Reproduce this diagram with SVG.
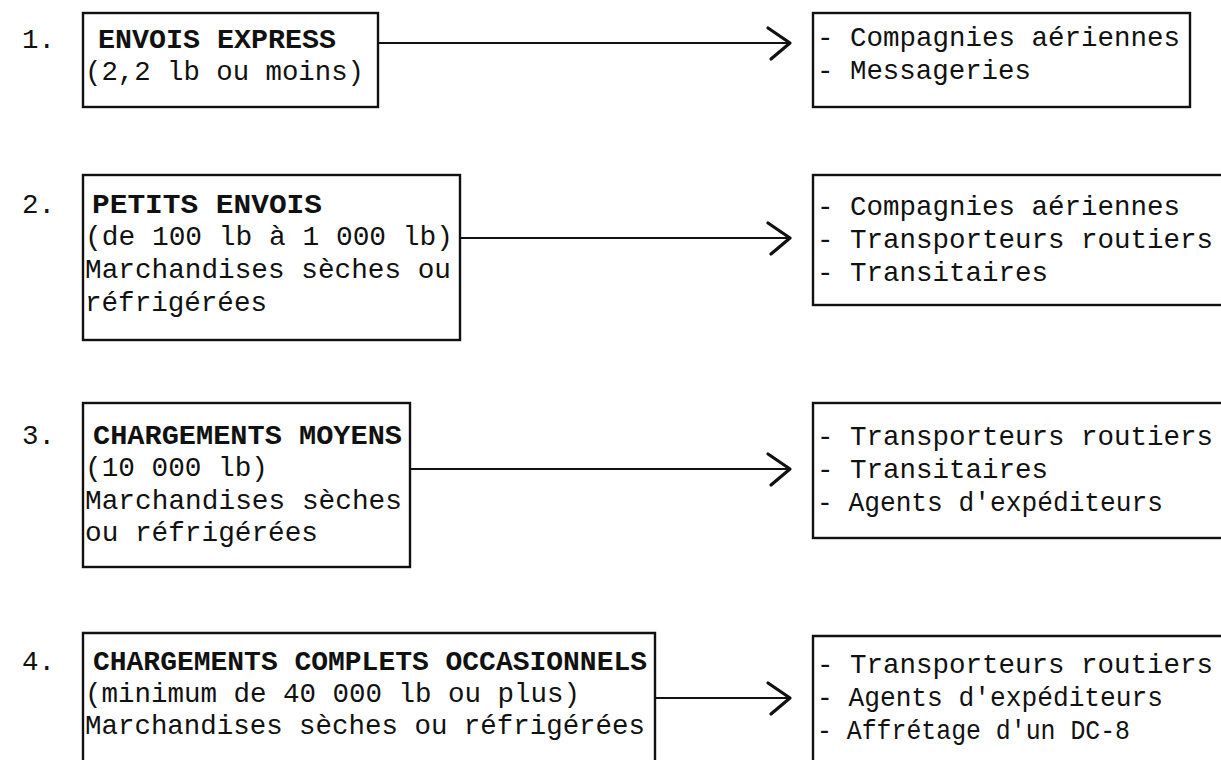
<svg xmlns="http://www.w3.org/2000/svg" width="1221" height="760" viewBox="0 0 1221 760">
<style>
.bg{fill:#ffffff}
.box{fill:none;stroke:#111;stroke-width:2.4}
.t{font-family:"Liberation Mono","DejaVu Sans Mono",monospace;font-size:27.5px;fill:#111}
.h{font-weight:bold}
.conn{stroke:#111;stroke-width:2.2;fill:none}
</style>
<defs>
<marker id="chev" viewBox="-26 -20 30 40" refX="0" refY="0" markerWidth="30" markerHeight="40" markerUnits="userSpaceOnUse" orient="auto">
<path d="M-22,-15 L0,0 L-19,16" fill="none" stroke="#111" stroke-width="3.2" stroke-linecap="round" stroke-linejoin="round"/>
</marker>
</defs>
<rect class="bg" x="0" y="0" width="1221" height="760"/>

<g id="numbers">
<text class="t" x="22" y="48">1.</text>
<text class="t" x="22" y="213">2.</text>
<text class="t" x="22" y="444">3.</text>
<text class="t" x="22" y="670">4.</text>
</g>

<g id="connectors">
<line class="conn" x1="378" y1="43" x2="790" y2="43" marker-end="url(#chev)"/>
<line class="conn" x1="460" y1="238" x2="790" y2="238" marker-end="url(#chev)"/>
<line class="conn" x1="410" y1="469" x2="790" y2="469" marker-end="url(#chev)"/>
<line class="conn" x1="655" y1="698" x2="790" y2="698" marker-end="url(#chev)"/>
</g>

<g id="node-1">
<rect class="box" x="83" y="13" width="295" height="94"/>
<text class="t h" x="98" y="48" textLength="238" lengthAdjust="spacingAndGlyphs">ENVOIS EXPRESS</text>
<text class="t" x="85" y="80" textLength="279" lengthAdjust="spacingAndGlyphs">(2,2 lb ou moins)</text>
</g>

<g id="target-1">
<rect class="box" x="813" y="13" width="377" height="94"/>
<text class="t" x="817" y="46" textLength="363" lengthAdjust="spacingAndGlyphs">- Compagnies aériennes</text>
<text class="t" x="817" y="79" textLength="214" lengthAdjust="spacingAndGlyphs">- Messageries</text>
</g>

<g id="node-2">
<rect class="box" x="83" y="175" width="377" height="165"/>
<text class="t h" x="92" y="213" textLength="230" lengthAdjust="spacingAndGlyphs">PETITS ENVOIS</text>
<text class="t" x="85" y="245" textLength="368" lengthAdjust="spacingAndGlyphs">(de 100 lb à 1 000 lb)</text>
<text class="t" x="85" y="278" textLength="366" lengthAdjust="spacingAndGlyphs">Marchandises sèches ou</text>
<text class="t" x="85" y="311" textLength="182" lengthAdjust="spacingAndGlyphs">réfrigérées</text>
</g>

<g id="target-2">
<rect class="box" x="813" y="175" width="430" height="130"/>
<text class="t" x="817" y="215" textLength="363" lengthAdjust="spacingAndGlyphs">- Compagnies aériennes</text>
<text class="t" x="817" y="248" textLength="396" lengthAdjust="spacingAndGlyphs">- Transporteurs routiers</text>
<text class="t" x="817" y="281" textLength="231" lengthAdjust="spacingAndGlyphs">- Transitaires</text>
</g>

<g id="node-3">
<rect class="box" x="83" y="403" width="327" height="164"/>
<text class="t h" x="93" y="444" textLength="309" lengthAdjust="spacingAndGlyphs">CHARGEMENTS MOYENS</text>
<text class="t" x="85" y="476" textLength="183" lengthAdjust="spacingAndGlyphs">(10 000 lb)</text>
<text class="t" x="85" y="509" textLength="317" lengthAdjust="spacingAndGlyphs">Marchandises sèches</text>
<text class="t" x="85" y="541" textLength="233" lengthAdjust="spacingAndGlyphs">ou réfrigérées</text>
</g>

<g id="target-3">
<rect class="box" x="813" y="403" width="430" height="135"/>
<text class="t" x="817" y="445" textLength="396" lengthAdjust="spacingAndGlyphs">- Transporteurs routiers</text>
<text class="t" x="817" y="478" textLength="231" lengthAdjust="spacingAndGlyphs">- Transitaires</text>
<text class="t" x="817" y="511" textLength="346" lengthAdjust="spacingAndGlyphs">- Agents d'expéditeurs</text>
</g>

<g id="node-4">
<path class="box" d="M83,780 L83,633 L655,633 L655,780"/>
<text class="t h" x="93" y="670" textLength="554" lengthAdjust="spacingAndGlyphs">CHARGEMENTS COMPLETS OCCASIONNELS</text>
<text class="t" x="85" y="702" textLength="495" lengthAdjust="spacingAndGlyphs">(minimum de 40 000 lb ou plus)</text>
<text class="t" x="85" y="734" textLength="560" lengthAdjust="spacingAndGlyphs">Marchandises sèches ou réfrigérées</text>
</g>

<g id="target-4">
<path class="box" d="M813,780 L813,636 L1243,636"/>
<text class="t" x="817" y="673" textLength="396" lengthAdjust="spacingAndGlyphs">- Transporteurs routiers</text>
<text class="t" x="817" y="706" textLength="346" lengthAdjust="spacingAndGlyphs">- Agents d'expéditeurs</text>
<text class="t" x="817" y="739" textLength="313" lengthAdjust="spacingAndGlyphs">- Affrétage d'un DC-8</text>
</g>
</svg>
